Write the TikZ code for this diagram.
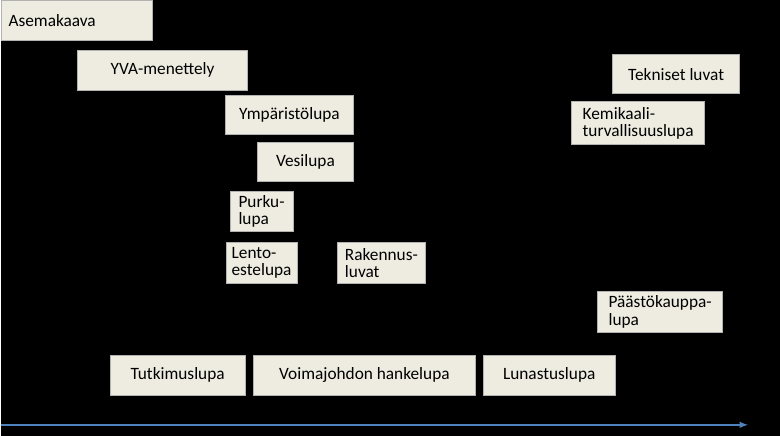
\documentclass[tikz,border=0pt]{standalone}
\usepackage{fontspec}
\setmainfont{Carlito}
\definecolor{boxfill}{RGB}{238,236,225}
\definecolor{axisblue}{RGB}{79,129,189}
\begin{document}
\begin{tikzpicture}[x=0.0264cm, y=-0.0264cm, every node/.style={draw=gray!60, fill=boxfill, rectangle, font=\fontsize{13}{13}\selectfont, align=left, inner sep=0pt}]

\fill[black] (0,0) rectangle (780,436);

% Boxes
\node[minimum width=152*0.0264cm, minimum height=40*0.0264cm] (asema) at (76,20) {\makebox[3.6cm][l]{Asemakaava}};
\node[minimum width=170*0.0264cm, minimum height=40*0.0264cm] (yva) at (162,70) {YVA-menettely};
\node[minimum width=128*0.0264cm, minimum height=39*0.0264cm] (ymp) at (289,115) {Ympäristölupa};
\node[minimum width=96*0.0264cm, minimum height=39*0.0264cm] (vesi) at (305,162) {Vesilupa};
\node[minimum width=63*0.0264cm, minimum height=40*0.0264cm] (purku) at (261,211) {Purku-\\lupa};
\node[minimum width=71*0.0264cm, minimum height=41*0.0264cm] (lento) at (261,263) {Lento-\\estelupa};
\node[minimum width=88*0.0264cm, minimum height=41*0.0264cm] (rak) at (381,263) {Rakennus-\\luvat};
\node[minimum width=135*0.0264cm, minimum height=40*0.0264cm] (tutk) at (177,375) {Tutkimuslupa};
\node[minimum width=222*0.0264cm, minimum height=40*0.0264cm] (voima) at (364,375) {Voimajohdon hankelupa};
\node[minimum width=132*0.0264cm, minimum height=40*0.0264cm] (lunas) at (549,375) {Lunastuslupa};
\node[minimum width=127*0.0264cm, minimum height=39*0.0264cm] (tekn) at (676,74) {Tekniset luvat};
\node[minimum width=133*0.0264cm, minimum height=43*0.0264cm] (kemi) at (638,123) {Kemikaali-\\turvallisuuslupa};
\node[minimum width=125*0.0264cm, minimum height=41*0.0264cm] (paasto) at (660,312) {Päästökauppa-\\lupa};

% Time axis
\coordinate (t0) at (0,425);
\coordinate (t1) at (748,425);
\draw[axisblue, line width=1.2pt, -latex] (t0) -- (t1);

\end{tikzpicture}
\end{document}
